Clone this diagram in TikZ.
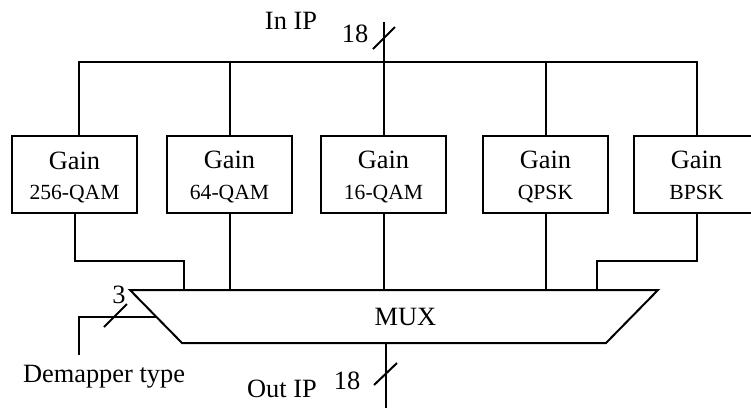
\documentclass[tikz,border=0pt]{standalone}
\usepackage{fontspec}
\setmainfont{Liberation Serif}

\begin{document}
\begin{tikzpicture}[x=0.5pt,y=-0.5pt,line width=1pt,
  every node/.style={font=\fontsize{13.2}{14}\selectfont},
  gainbox/.style={draw,minimum width=62.5pt,minimum height=38.5pt,inner sep=0pt},
  qam/.style={font=\fontsize{10.8}{14}\selectfont}]
\useasboundingbox (0,0) rectangle (751,408);
\clip (0,0) rectangle (751,408);
\node[gainbox] (g256) at (74.5,174) {};
\node[gainbox] (g64) at (229.5,174) {};
\node[gainbox] (g16) at (383.5,174) {};
\node[gainbox] (gqpsk) at (545.5,174) {};
\node[gainbox] (gbpsk) at (696.5,174) {};
\node[anchor=base] (g256a) at (74.5,169) {Gain};
\node[anchor=base,qam] (g256b) at (74.5,199) {256-QAM};
\node[anchor=base] (g64a) at (229.5,168) {Gain};
\node[anchor=base,qam] (g64b) at (229.5,199) {64-QAM};
\node[anchor=base] (g16a) at (383.5,168) {Gain};
\node[anchor=base,qam] (g16b) at (383.5,199) {16-QAM};
\node[anchor=base] (gqpska) at (545.5,168) {Gain};
\node[anchor=base,qam] (gqpskb) at (545.5,199) {QPSK};
\node[anchor=base] (gbpska) at (696.5,168) {Gain};
\node[anchor=base,qam] (gbpskb) at (696.5,199) {BPSK};
\coordinate (inip) at (383.5,22);
\coordinate (bus) at (383.5,62);
\coordinate (mtl) at (130,290);
\coordinate (mtr) at (658,290);
\coordinate (mbr) at (606,343);
\coordinate (mbl) at (182,343);
\coordinate (in256) at (184,290);
\coordinate (inbpsk) at (597,290);
\coordinate (outip) at (386,408);
\coordinate (dem) at (79,355);
\coordinate (demin) at (156.5,317);
\draw (mtl) -- (mtr) -- (mbr) -- (mbl) -- cycle;
\node[anchor=base] (mux) at (405.5,325) {MUX};
\draw ([xshift=2.25pt]g256.north) -- ++(0,-73) -| (gbpsk.north);
\draw (inip) -- (g16.north);
\draw (g64.north) -- (g64.north |- bus);
\draw (gqpsk.north) -- (gqpsk.north |- bus);
\draw (g256.south) -- ++(0,47) -| (in256);
\draw (g64.south) -- (g64.south |- mtl);
\draw (g16.south) -- (g16.south |- mtl);
\draw (gqpsk.south) -- (gqpsk.south |- mtl);
\draw (gbpsk.south) -- ++(0,47) -| (inbpsk);
\draw (outip |- mbl) -- (outip);
\draw (dem) |- (demin);
\draw (373,49) -- (395,27);
\draw (374,385) -- (397,363);
\draw (104,327) -- (127,304);
\node[anchor=base] (inlbl) at (291,29) {In IP};
\node[anchor=base] (inw) at (355,42) {18};
\node[anchor=base] (outlbl) at (282,397) {Out IP};
\node[anchor=base] (outw) at (347,389) {18};
\node[anchor=base] (demw) at (119,303) {3};
\node[anchor=base] (demlbl) at (104,382) {Demapper type};
\end{tikzpicture}
\end{document}
